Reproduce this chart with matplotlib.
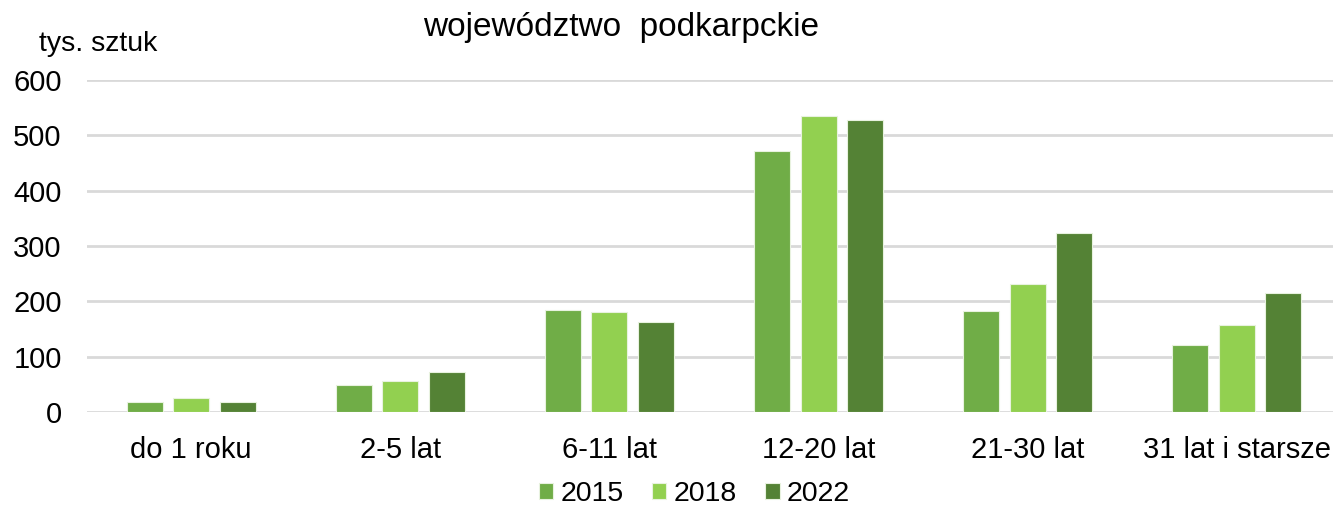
import numpy as np
import matplotlib.pyplot as plt

plt.rcParams['font.family'] = ['Liberation Sans', 'DejaVu Sans']

# --- Data (tys. sztuk) ---
categories = ["do 1 roku", "2-5 lat", "6-11 lat", "12-20 lat", "21-30 lat", "31 lat i starsze"]
years = ["2015", "2018", "2022"]
v2015 = [18, 49, 184, 472, 182, 122]
v2018 = [25, 56, 180, 535, 231, 157]
v2022 = [18, 72, 162, 528, 324, 215]
yticks = [0, 100, 200, 300, 400, 500, 600]

colors = ["#70AD47", "#92D050", "#548235"]

fig = plt.figure(figsize=(13.33, 5.05), dpi=100)
ax = fig.add_axes([0.065, 0.184, 0.935, 0.658])

x = np.arange(len(categories))
step = 0.222
width = 0.172
for i, (vals, year) in enumerate(zip([v2015, v2018, v2022], years)):
    ax.bar(x + (i - 1) * step, vals, width, color=colors[i], label=year,
           edgecolor="#E8F2DF", linewidth=0.8, zorder=3)

ax.set_xlim(-0.5, 5.46)
ax.set_ylim(0, 600)
ax.set_yticks(yticks)
ax.set_xticks(x)
ax.set_xticklabels(categories)
ax.tick_params(axis='both', length=0, labelsize=21, colors="#000000")
ax.tick_params(axis='y', pad=18)
ax.tick_params(axis='x', pad=17)
ax.yaxis.grid(True, color="#D9D9D9", linewidth=2, zorder=0)
for s in ax.spines.values():
    s.set_visible(False)

fig.text(0.466, 0.945, "województwo  podkarpckie", ha="center", va="center", fontsize=24)
fig.text(0.029, 0.913, "tys. sztuk", ha="left", va="center", fontsize=20.5)

ax.legend(loc="center", bbox_to_anchor=(0.521, 0.022), bbox_transform=fig.transFigure,
          ncol=3, frameon=False, fontsize=20.5, handlelength=0.5, handleheight=0.5,
          handletextpad=0.25, columnspacing=1.0)

fig.savefig("out.png", dpi=100)
